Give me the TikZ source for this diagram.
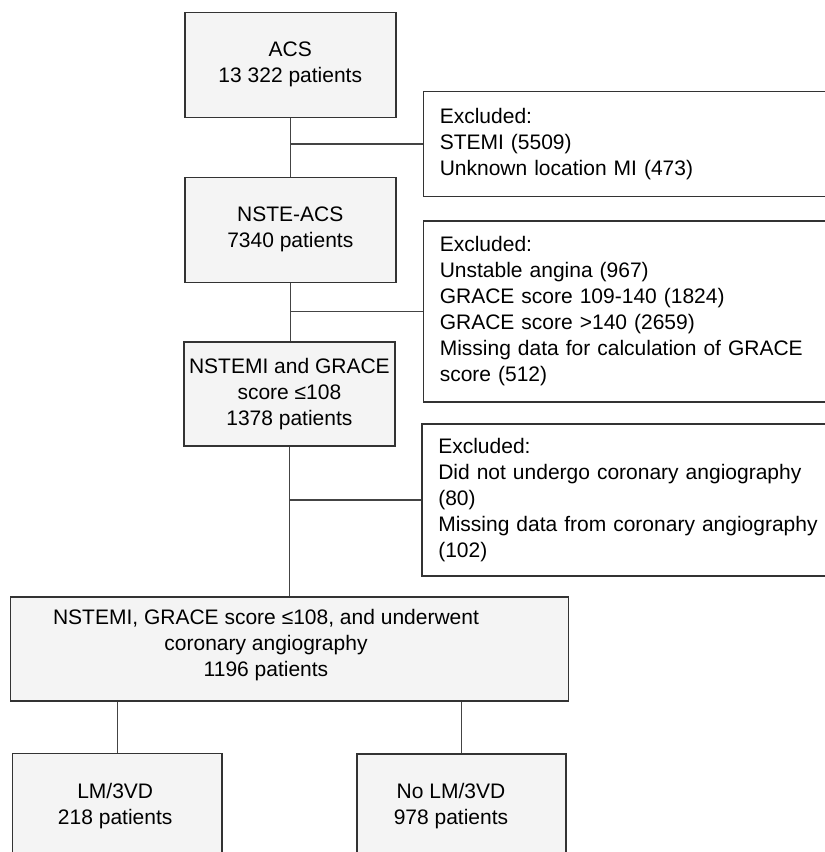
\documentclass[tikz,border=0pt]{standalone}
\usepackage{fontspec}
\setmainfont{Liberation Sans}
\definecolor{boxfill}{HTML}{F4F4F4}
\definecolor{boxline}{HTML}{333333}
\definecolor{linecol}{HTML}{444444}
\tikzset{
  txt/.style={font=\fontsize{21}{26}\selectfont, text=black},
  flowbox/.style={draw=boxline, fill=boxfill, line width=1.6pt, rectangle,
    minimum width=211pt, minimum height=105pt, inner xsep=1pt, inner ysep=0pt,
    align=center, txt},
  plainbox/.style={draw=boxline, fill=boxfill, line width=1.6pt, rectangle,
    inner sep=0pt},
  exclbox/.style={draw=boxline, fill=white, line width=1.6pt, rectangle,
    anchor=north west, inner xsep=16.5pt, inner ysep=0pt, text width=427pt,
    align=left, txt},
  lbl/.style={inner sep=0pt, align=center, txt},
  conn/.style={draw=linecol, line width=1.3pt},
}
\begin{document}
\begin{tikzpicture}[x=1pt, y=-1pt]
\useasboundingbox (0,0) rectangle (825,852);
\clip (0,0) rectangle (825,852);
% main column
\node[flowbox] (acs) at (290.3,64.8) {ACS\\13 322 patients};
\node[flowbox] (nste) at (290.3,229.8) {NSTE-ACS\\7340 patients};
\node[flowbox, minimum height=104pt] (nstemi) at (289.4,394.2) {NSTEMI and GRACE\\score ≤108\\1378 patients};
% excluded boxes
\node[exclbox, minimum height=105pt] (ex1) at (422.5,90.7) {Excluded:\\STEMI (5509)\\Unknown location MI (473)};
\node[exclbox, minimum height=181pt] (ex2) at (422.5,220) {Excluded:\\Unstable angina (967)\\GRACE score 109-140 (1824)\\GRACE score >140 (2659)\\Missing data for calculation of GRACE\\score (512)};
\node[exclbox, minimum height=151.7pt] (ex3) at (421,423.3) {Excluded:\\Did not undergo coronary angiography\\(80)\\Missing data from coronary angiography\\(102)};
% big box
\node[plainbox, minimum width=557.8pt, minimum height=104pt] (big) at (289.4,649) {};
\node[lbl] (bigtxt) at (266,645.5) {NSTEMI, GRACE score ≤108, and underwent\\coronary angiography\\1196 patients};
% bottom boxes
\node[plainbox, anchor=north, minimum width=209.4pt, minimum height=105pt] (lm) at (117.3,752.7) {};
\node[lbl] (lmtxt) at (115.2,806) {LM/3VD\\218 patients};
\node[plainbox, anchor=north, minimum width=209pt, minimum height=105pt] (nolm) at (461.2,753.3) {};
\node[lbl] (nolmtxt) at (451,806) {No LM/3VD\\978 patients};
% connectors
\draw[conn] (acs.south) -- (nste.north);
\draw[conn] (acs.south |- ex1.west) -- (ex1.west);
\draw[conn] (nste.south) -- (nstemi.north -| nste.south);
\draw[conn] (nste.south |- ex2.west) -- (ex2.west);
\draw[conn] (nstemi.south) -- (big.north);
\draw[conn] (nstemi.south |- ex3.west) -- (ex3.west);
\draw[conn] (big.south -| lm.north) -- (lm.north);
\draw[conn] (big.south -| nolm.north) -- (nolm.north);
\end{tikzpicture}
\end{document}
